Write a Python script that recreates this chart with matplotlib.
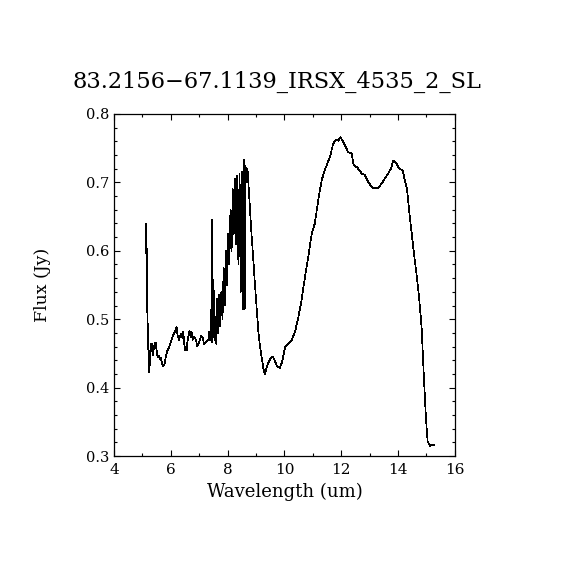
import matplotlib
matplotlib.use('Agg')
import matplotlib.pyplot as plt
from matplotlib.ticker import MultipleLocator

title = '83.2156\u221267.1139_IRSX_4535_2_SL'

# spectrum
wavelength = [5.126, 5.137, 5.161, 5.172, 5.22, 5.243, 5.267, 5.29, 5.313, 5.337,
              5.36, 5.397, 5.43, 5.466, 5.50, 5.536, 5.57, 5.61, 5.64, 5.68,
              5.72, 5.77, 5.82, 5.88, 5.94, 6.00, 6.05, 6.11, 6.16, 6.20,
              6.24, 6.29, 6.33, 6.37, 6.40, 6.44, 6.47, 6.51, 6.56, 6.59,
              6.63, 6.66, 6.70, 6.73, 6.77, 6.81, 6.85, 6.89, 6.93, 6.98,
              7.03, 7.07, 7.12, 7.17, 7.21, 7.27, 7.33, 7.35, 7.38, 7.40,
              7.42, 7.45, 7.46, 7.48, 7.51, 7.53, 7.55, 7.58, 7.60,
              7.62, 7.66, 7.70, 7.74, 7.78, 7.82, 7.86, 7.90, 7.94, 7.98,
              8.02, 8.06, 8.10, 8.14, 8.18, 8.22, 8.26, 8.30, 8.34, 8.38,
              8.42, 8.46, 8.50, 8.54, 8.57, 8.60, 8.63, 8.67, 8.70, 8.73,
              8.78, 8.84, 8.90, 8.96, 9.02, 9.08, 9.14, 9.20, 9.26, 9.31,
              9.38, 9.45, 9.52, 9.58, 9.64, 9.70, 9.76, 9.84, 9.92, 9.97,
              10.02, 10.13, 10.25, 10.37, 10.49, 10.60, 10.72, 10.84, 10.96, 11.07,
              11.19, 11.31, 11.42, 11.60, 11.72, 11.81, 11.89, 11.98, 12.07, 12.16,
              12.24, 12.36, 12.44, 12.56, 12.72, 12.83, 12.95, 13.07, 13.18, 13.30,
              13.42, 13.54, 13.65, 13.75, 13.83, 13.95, 14.04, 14.16, 14.24, 14.32,
              14.39, 14.48, 14.56, 14.65, 14.74, 14.83, 14.91, 14.98, 15.04, 15.12,
              15.18, 15.27]
flux = [0.640, 0.596, 0.603, 0.513, 0.439, 0.422, 0.442, 0.464, 0.454, 0.464,
        0.447, 0.456, 0.464, 0.466, 0.454, 0.444, 0.447, 0.442, 0.444, 0.437,
        0.432, 0.433, 0.444, 0.454, 0.459, 0.466, 0.473, 0.479, 0.483, 0.489,
        0.476, 0.470, 0.476, 0.479, 0.473, 0.482, 0.464, 0.454, 0.455, 0.469,
        0.477, 0.483, 0.474, 0.481, 0.470, 0.474, 0.473, 0.469, 0.461, 0.465,
        0.470, 0.476, 0.473, 0.464, 0.465, 0.468, 0.471, 0.482, 0.469, 0.481,
        0.473, 0.645, 0.466, 0.557, 0.473, 0.542, 0.469, 0.503, 0.464,
        0.530, 0.480, 0.535, 0.490, 0.540, 0.500, 0.575, 0.520, 0.600, 0.550,
        0.625, 0.580, 0.660, 0.600, 0.690, 0.625, 0.705, 0.610, 0.710, 0.580,
        0.713, 0.540, 0.716, 0.515, 0.733, 0.515, 0.724, 0.700, 0.720, 0.700,
        0.665, 0.625, 0.590, 0.552, 0.518, 0.483, 0.460, 0.444, 0.428, 0.420,
        0.430, 0.438, 0.443, 0.445, 0.442, 0.435, 0.430, 0.429, 0.438, 0.448,
        0.459, 0.464, 0.469, 0.481, 0.503, 0.527, 0.561, 0.591, 0.625, 0.640,
        0.674, 0.703, 0.718, 0.737, 0.757, 0.762, 0.761, 0.766, 0.759, 0.752,
        0.744, 0.743, 0.725, 0.722, 0.713, 0.711, 0.701, 0.693, 0.691, 0.692,
        0.698, 0.706, 0.713, 0.720, 0.732, 0.727, 0.720, 0.718, 0.703, 0.689,
        0.659, 0.625, 0.596, 0.566, 0.532, 0.488, 0.415, 0.356, 0.322, 0.315,
        0.316, 0.316]

plt.rcParams['font.family'] = 'DejaVu Serif'
fig = plt.figure(figsize=(5.7, 5.7), dpi=100)
ax = fig.add_axes([0.2, 0.2, 0.598, 0.6])
ax.plot(wavelength, flux, color='black', lw=0.5, antialiased=False)

ax.set_xlim(4, 16)
ax.set_ylim(0.3, 0.8)
ax.xaxis.set_major_locator(MultipleLocator(2))
ax.xaxis.set_minor_locator(MultipleLocator(1))
ax.yaxis.set_major_locator(MultipleLocator(0.1))
ax.yaxis.set_minor_locator(MultipleLocator(0.02))
ax.tick_params(which='both', direction='in', top=True, right=True, width=0.8)
ax.tick_params(which='major', length=4.5, labelsize=11)
ax.tick_params(which='minor', length=2.2)
ax.tick_params(axis='x', pad=5)
ax.tick_params(axis='y', labelsize=10.5)
for s in ax.spines.values():
    s.set_linewidth(0.9)

ax.set_xlabel('Wavelength (um)', fontsize=13, labelpad=4)
ax.set_ylabel('Flux (Jy)', fontsize=12.5, labelpad=25)
ax.set_title(title, fontsize=16.2, pad=19, x=0.477)

fig.savefig('out.png', dpi=100)
